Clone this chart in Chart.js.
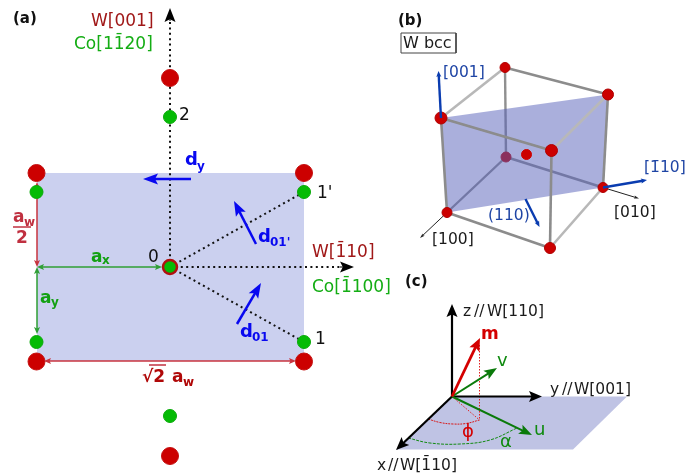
<!DOCTYPE html>
<html lang="en">
<head>
    <meta charset="UTF-8">
    <title>W bcc / Co lattice</title>
    <script src="https://cdn.jsdelivr.net/npm/chart.js"></script>
    <style>
        html, body { margin: 0; padding: 0; background: #ffffff; }
        canvas { display: block; }
    </style>
</head>
<body>
    <canvas id="chart" width="700" height="473"></canvas>
    <script>
        // all values, in picture units (0-700, 0-473)
        const wAtomX = [170, 36.5, 304, 36.5, 304, 170];
        const wAtomY = [78, 173, 173, 361.5, 361.5, 456];
        const coAtomX = [170, 36.5, 304, 36.5, 304, 170];
        const coAtomY = [117, 192, 192, 342, 342, 416];
        const centerX = [170];
        const centerY = [267];
        const cellX = [37, 304, 304, 37, 37];
        const cellY = [173, 173, 361, 361, 173];

        const cubeFrontX = [505, 608, 441, 551.5, 603, 447, 550];
        const cubeFrontY = [67.5, 94.5, 118, 150.5, 187.5, 212.5, 248];
        const cubeBackX = [506];
        const cubeBackY = [157];
        const cubeMiddleX = [526.5];
        const cubeMiddleY = [154.5];
        const planeBX = [441, 608, 603, 447, 441];
        const planeBY = [118, 94.5, 187.5, 212.5, 118];
        const backEdges = [[506, 157, 505, 67.5], [506, 157, 447, 212.5], [506, 157, 603, 187.5]];
        const lightEdges = [[441, 118, 505, 67.5], [551.5, 150.5, 608, 94.5], [550, 248, 603, 187.5]];
        const darkEdges = [[505, 67.5, 608, 94.5], [441, 118, 551.5, 150.5], [447, 212.5, 550, 248],
            [441, 118, 447, 212.5], [608, 94.5, 603, 187.5], [551.5, 150.5, 550, 248]];

        const planeCX = [452, 627, 573, 396, 452];
        const planeCY = [396.5, 396.5, 449.5, 449.5, 396.5];
        const phiArcX = [428, 440, 453, 466, 479.5];
        const phiArcY = [419, 422.5, 424, 423.5, 420];
        const alphaArcX = [408, 430, 460, 490, 517];
        const alphaArcY = [438, 443, 444, 440, 428];

        const dottedLines = [[170, 267, 170, 20], [170, 267, 304, 192], [170, 267, 304, 342], [170, 267, 341, 267]];
        const dottedTips = [[170, 21, 170, 8], [340, 267, 354, 267]];
        const blueArrows = [[191, 179, 143, 179], [237, 324, 261, 283], [256, 244, 234, 201]];
        const greenDims = [[37, 267, 162, 267], [37, 267, 37, 334]];
        const redDims = [[37, 182, 37, 267], [44, 361, 296, 361]];
        const redBars = [[13, 227, 31, 227], [149, 365, 166, 365]];
        const bccBlue = [[441, 118, 438.5, 71], [603, 187.5, 647, 180], [525.5, 199, 539.5, 227]];
        const bccBlack = [[603, 187.5, 639, 198.5], [447, 212.5, 420, 238]];
        const boxX = [401, 456, 456, 401, 401];
        const boxY = [33, 33, 53, 53, 33];
        const axesC = [[452, 396.5, 452, 304], [452, 396.5, 542, 396.5], [452, 396.5, 396, 450]];
        const momentC = [[452, 396.5, 480, 338]];
        const greenC = [[452, 396.5, 497, 368], [452, 396.5, 532, 435]];
        const phiGuides = [[479.5, 345, 479.5, 420], [452, 396.5, 479.5, 420]];

        const black17 = ['2', "1'", '0', '1'];
        const black17X = [179, 317, 148, 315];
        const black17Y = [120, 198, 262, 344];
        const black15 = ['[010]', '[100]', 'z', '//', 'W[110]', 'y', '//', 'W[001]', 'x', '//', 'W[1\u030410]'];
        const black15X = [614, 432, 463, 474, 487, 550, 562, 574, 377, 388, 400];
        const black15Y = [216.5, 244, 316, 316, 316, 394, 394, 394, 470, 470, 470];
        const boxLabel = ['W bcc'];
        const boxLabelX = [403];
        const boxLabelY = [48];
        const bold15 = ['(a)', '(b)', '(c)'];
        const bold15X = [13, 398, 405];
        const bold15Y = [23, 25, 286];
        const wLabels = ['W[001]', 'W[1\u030410]'];
        const wLabelX = [91, 312];
        const wLabelY = [26, 257];
        const coLabels = ['Co[11\u030420]', 'Co[1\u0304100]'];
        const coLabelX = [74, 312];
        const coLabelY = [49, 292];
        const blueBig = ['d', 'd', 'd'];
        const blueBigX = [185, 258, 240];
        const blueBigY = [165, 242, 337];
        const blueSub = ['y', "01'", '01'];
        const blueSubX = [197, 270, 252];
        const blueSubY = [170, 246, 341];
        const bccLabels = ['[001]', '[1\u030410]', '(110)'];
        const bccLabelX = [443, 644, 488];
        const bccLabelY = [77, 172, 220];
        const greenBig = ['a', 'a'];
        const greenBigX = [91, 40];
        const greenBigY = [262, 303];
        const greenSub = ['x', 'y'];
        const greenSubX = [102, 51];
        const greenSubY = [264, 306];
        const redBig = ['a', '2'];
        const redBigX = [13, 16];
        const redBigY = [222, 243];
        const redSub = ['w'];
        const redSubX = [24];
        const redSubY = [226];
        const darkRedBig = ['\u221A2', 'a'];
        const darkRedBigX = [142, 172];
        const darkRedBigY = [382, 382];
        const darkRedSub = ['w'];
        const darkRedSubX = [183];
        const darkRedSubY = [386];
        const redC = ['m'];
        const redCX = [481];
        const redCY = [339];
        const phiLabel = ['\u03D5'];
        const phiLabelX = [462];
        const phiLabelY = [437];
        const greenC2 = ['v', 'u', '\u03B1'];
        const greenC2X = [497, 534, 500];
        const greenC2Y = [366, 435, 447];

        const FONT = '"DejaVu Sans"';
        const labelGroups = [
            [black17, black17X, black17Y, '17px ' + FONT, '#111111'],
            [black15, black15X, black15Y, '15.5px ' + FONT, '#1a1a1a'],
            [boxLabel, boxLabelX, boxLabelY, '16px ' + FONT, '#1a1a1a'],
            [bold15, bold15X, bold15Y, 'bold 15px ' + FONT, '#111111'],
            [wLabels, wLabelX, wLabelY, '17px ' + FONT, '#a01818'],
            [coLabels, coLabelX, coLabelY, '17px ' + FONT, '#14ad14'],
            [blueBig, blueBigX, blueBigY, 'bold 18px ' + FONT, '#0808f0'],
            [blueSub, blueSubX, blueSubY, 'bold 12px ' + FONT, '#0808f0'],
            [bccLabels, bccLabelX, bccLabelY, '15.5px ' + FONT, '#1f45a5'],
            [greenBig, greenBigX, greenBigY, 'bold 17px ' + FONT, '#12a012'],
            [greenSub, greenSubX, greenSubY, 'bold 12px ' + FONT, '#12a012'],
            [redBig, redBigX, redBigY, 'bold 17px ' + FONT, '#c03040'],
            [redSub, redSubX, redSubY, 'bold 12px ' + FONT, '#c03040'],
            [darkRedBig, darkRedBigX, darkRedBigY, 'bold 17px ' + FONT, '#b00808'],
            [darkRedSub, darkRedSubX, darkRedSubY, 'bold 12px ' + FONT, '#b00808'],
            [redC, redCX, redCY, 'bold 17px ' + FONT, '#d40000'],
            [phiLabel, phiLabelX, phiLabelY, '18px ' + FONT, '#d40000'],
            [greenC2, greenC2X, greenC2Y, '18px ' + FONT, '#0f8a0f']
        ];

        const pts = (xs, ys) => xs.map((x, i) => ({ x, y: ys[i] }));
        const datasets = [];

        function shape(xs, ys, color) {
            datasets.push({ data: pts(xs, ys), showLine: true, fill: 'shape', backgroundColor: color,
                borderWidth: 0, pointRadius: 0 });
        }
        function atoms(xs, ys, radius, color, edge) {
            datasets.push({ data: pts(xs, ys), showLine: false, pointRadius: radius,
                pointBackgroundColor: color, pointBorderColor: edge || color, pointBorderWidth: 1 });
        }
        function lines(list, color, width, dash) {
            list.forEach(s => datasets.push({ data: [{ x: s[0], y: s[1] }, { x: s[2], y: s[3] }], showLine: true,
                borderColor: color, borderWidth: width, borderDash: dash || [], pointRadius: 0 }));
        }
        function curve(xs, ys, color, width, dash) {
            datasets.push({ data: pts(xs, ys), showLine: true, borderColor: color, borderWidth: width,
                borderDash: dash || [], tension: 0.4, pointRadius: 0 });
        }
        // line from the first point to the second, with a head on the tip (and the tail if both is set)
        function arrows(list, color, width, len, wide, both) {
            list.forEach(s => {
                const d = Math.hypot(s[2] - s[0], s[3] - s[1]);
                const k = Math.min(len * 0.7 / d, 0.5);
                const x1 = s[2] - (s[2] - s[0]) * k, y1 = s[3] - (s[3] - s[1]) * k;
                const x0 = both ? s[0] + (s[2] - s[0]) * k : s[0], y0 = both ? s[1] + (s[3] - s[1]) * k : s[1];
                datasets.push({ data: [{ x: x0, y: y0 }, { x: x1, y: y1 }], showLine: true, borderColor: color,
                    borderWidth: width, pointRadius: 0, head: { tip: s, color, len, wide, both } });
            });
        }

        // panel (a)
        shape(cellX, cellY, '#cbd0ef');
        lines(dottedLines, '#111111', 2, [2, 3.4]);
        arrows(dottedTips, '#000000', 1, 14, 11);
        lines(redBars, '#c03040', 1.5);
        arrows(redDims, '#c8353f', 1.5, 7, 6, true);
        arrows(greenDims, '#2f9f35', 1.5, 7, 6, true);
        atoms(wAtomX, wAtomY, 8.5, '#cc0000', '#c41010');
        atoms(coAtomX, coAtomY, 6.5, '#05bb05', '#0aaa0a');
        atoms(centerX, centerY, 7, '#05bb05', '#b01010');
        datasets[datasets.length - 1].pointBorderWidth = 2.5;
        arrows(blueArrows, '#0808f0', 2.5, 15, 11);

        // panel (b)
        lines(backEdges, '#909090', 2.4);
        atoms(cubeBackX, cubeBackY, 5, '#c00000');
        arrows(bccBlack, '#222222', 1, 5, 3);
        shape(planeBX, planeBY, 'rgba(85,95,185,0.5)');
        lines(lightEdges, '#b8b8b8', 2.6);
        lines(darkEdges, '#8c8c8c', 2.6);
        atoms(cubeMiddleX, cubeMiddleY, 5, '#cc0000');
        atoms(cubeFrontX, cubeFrontY, [5, 5.5, 6, 6, 5, 5, 5.5], '#cc0000', '#b00000');
        arrows(bccBlue, '#0a3cb0', 2.4, 6, 5);
        lines([[boxX[0], boxY[0], boxX[1], boxY[1]], [boxX[1], boxY[1], boxX[2], boxY[2]],
            [boxX[2], boxY[2], boxX[3], boxY[3]], [boxX[3], boxY[3], boxX[4], boxY[4]]], '#444444', 1);

        // panel (c)
        shape(planeCX, planeCY, '#bfc3e4');
        lines(phiGuides, '#e02020', 1, [1.5, 1.5]);
        curve(phiArcX, phiArcY, '#d81818', 1, [2, 1]);
        curve(alphaArcX, alphaArcY, '#128a12', 1, [3, 1.2]);
        arrows(axesC, '#000000', 2.2, 13, 11);
        arrows(greenC, '#0a7a0a', 2, 13, 10);
        arrows(momentC, '#d40000', 2.8, 13, 11);

        // paint order: first pushed is at the back
        datasets.forEach((d, i) => { d.order = datasets.length - i; });

        function drawHead(ctx, xs, ys, xe, ye, h) {
            const a = Math.atan2(ye - ys, xe - xs);
            ctx.save();
            ctx.translate(xe, ye);
            ctx.rotate(a);
            ctx.fillStyle = h.color;
            ctx.beginPath();
            ctx.moveTo(0, 0);
            ctx.lineTo(-h.len, -h.wide / 2);
            ctx.lineTo(-h.len * 0.8, 0);
            ctx.lineTo(-h.len, h.wide / 2);
            ctx.closePath();
            ctx.fill();
            ctx.restore();
        }

        const sketchPlugin = {
            id: 'sketch',
            afterDatasetDraw(chart, args) {
                const h = chart.data.datasets[args.index].head;
                if (!h) return;
                const sx = chart.scales.x, sy = chart.scales.y, s = h.tip;
                const p = [sx.getPixelForValue(s[0]), sy.getPixelForValue(s[1]),
                    sx.getPixelForValue(s[2]), sy.getPixelForValue(s[3])];
                drawHead(chart.ctx, p[0], p[1], p[2], p[3], h);
                if (h.both) drawHead(chart.ctx, p[2], p[3], p[0], p[1], h);
            },
            afterDatasetsDraw(chart) {
                const ctx = chart.ctx, sx = chart.scales.x, sy = chart.scales.y;
                ctx.save();
                ctx.textAlign = 'left';
                ctx.textBaseline = 'alphabetic';
                labelGroups.forEach(g => {
                    ctx.font = g[3];
                    ctx.fillStyle = g[4];
                    g[0].forEach((t, i) => ctx.fillText(t, sx.getPixelForValue(g[1][i]), sy.getPixelForValue(g[2][i])));
                });
                ctx.restore();
            }
        };

        new Chart(document.getElementById('chart'), {
            type: 'scatter',
            data: { datasets },
            options: {
                responsive: false,
                animation: false,
                devicePixelRatio: 1,
                layout: { padding: 0, autoPadding: false },
                plugins: { legend: { display: false }, tooltip: { enabled: false } },
                scales: {
                    x: { type: 'linear', min: 0, max: 700, display: false },
                    y: { type: 'linear', min: 0, max: 473, reverse: true, display: false }
                }
            },
            plugins: [sketchPlugin]
        });
    </script>
</body>
</html>
